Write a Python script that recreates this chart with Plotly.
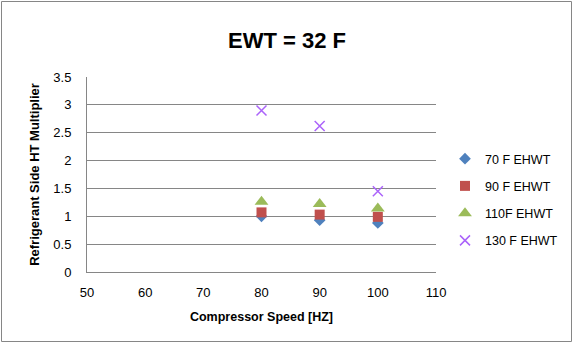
import plotly.graph_objects as go

speeds = [80, 90, 100]
ehwt_70 = [1.00, 0.93, 0.88]
ehwt_90 = [1.07, 1.03, 0.99]
ehwt_110 = [1.26, 1.22, 1.14]
ehwt_130 = [2.90, 2.62, 1.45]

W, H = 573, 343
L, R, T, B = 87, 436, 77, 272

fig = go.Figure()
fig.add_trace(go.Scatter(x=speeds, y=ehwt_70, mode="markers", name="70 F EHWT",
                         legendgroup="a",
                         marker=dict(symbol="diamond", size=9, color="#4F81BD")))
fig.add_trace(go.Scatter(x=speeds, y=ehwt_90, mode="markers", name="90 F EHWT",
                         legendgroup="b",
                         marker=dict(symbol="square", size=10, color="#C0504D")))
fig.add_trace(go.Scatter(x=speeds, y=ehwt_110, mode="markers", name="110F EHWT",
                         legendgroup="c",
                         marker=dict(symbol="triangle-up", size=12, color="#9BBB59")))
fig.add_trace(go.Scatter(x=speeds, y=ehwt_130, mode="markers", name="130 F EHWT",
                         legendgroup="d",
                         marker=dict(symbol="x-thin-open", size=10,
                                     line=dict(color="#8064A2", width=1.5))))

def px(p):
    return (p - L) / (R - L)

def py(q):
    return (B - q) / (B - T)

# outer chart border
fig.add_shape(type="rect", xref="paper", yref="paper",
              x0=px(1.5), x1=px(571.5), y0=py(341.5), y1=py(1.5),
              line=dict(color="#868686", width=1), layer="below")

font = "Liberation Sans"
fig.update_layout(
    width=W, height=H,
    margin=dict(l=L, r=W - R, t=T, b=H - B, autoexpand=False),
    paper_bgcolor="white", plot_bgcolor="white",
    font=dict(family=font, size=13, color="black"),
    title=dict(text="<b>EWT = 32 F</b>", x=287 / W, xanchor="center",
               y=1 - 40 / H, yanchor="middle", font=dict(size=22, family=font)),
    legend=dict(x=px(445), y=py(144), xanchor="left", yanchor="top",
                font=dict(size=12.5, family=font), tracegroupgap=8,
                itemwidth=30, bgcolor="rgba(0,0,0,0)"),
    showlegend=True,
)
fig.update_xaxes(range=[50, 110], dtick=10, showgrid=False, showline=True,
                 linecolor="#868686", linewidth=1, ticks="", zeroline=False,
                 ticklabelstandoff=8,
                 title=dict(text="<b>Compressor Speed [HZ]</b>", font=dict(size=12.5), standoff=13),
                 tickfont=dict(size=13))
fig.update_yaxes(range=[0, 3.5], dtick=0.5, showgrid=True, gridcolor="#868686",
                 gridwidth=1, showline=True, linecolor="#868686", linewidth=1,
                 ticks="", zeroline=False, ticklabelstandoff=12,
                 title=dict(text="<b>Refrigerant Side HT Multiplier</b>", font=dict(size=13), standoff=10),
                 tickfont=dict(size=13))

fig.write_html("out.html")
